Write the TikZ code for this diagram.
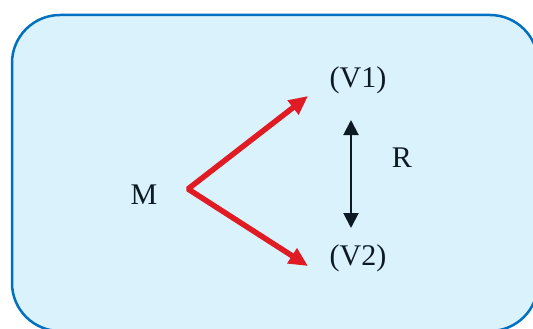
\documentclass[tikz,border=0pt]{standalone}
\usepackage{fontspec}
\setmainfont{Liberation Serif}
\usetikzlibrary{arrows.meta}
\definecolor{boxfill}{RGB}{218,242,252}
\definecolor{boxline}{RGB}{0,112,192}
\definecolor{redarrow}{RGB}{224,27,36}
\definecolor{darkink}{RGB}{12,26,36}
\tikzset{
  panel/.style={draw=boxline, fill=boxfill, line width=2.5pt, rounded corners=48pt},
  lbl/.style={text=darkink, font=\fontsize{30}{35}\selectfont, inner sep=0pt, anchor=base},
  redarr/.style={draw=redarrow, line width=5.5pt, line join=bevel,
     {Triangle[length=19pt,width=17pt]}-{Triangle[length=19pt,width=17pt]}},
  blkarr/.style={draw=darkink, line width=2pt,
     {Triangle[length=15pt,width=15pt]}-{Triangle[length=15pt,width=15pt]}}
}
\begin{document}
\begin{tikzpicture}[x=1pt,y=-1pt]
\useasboundingbox (0,0) rectangle (533,329);
\draw[panel] (12,15) rectangle (538,331);
\node[lbl] (M) at (144,204) {M};
\node[lbl] (V1) at (358,88) {(V1)};
\node[lbl] (V2) at (358,265) {(V2)};
\node[lbl] (R) at (402,167) {R};
\coordinate (vtx) at (188,189);
\coordinate (t1) at (308,96);
\coordinate (t2) at (308,266);
\coordinate (b1) at (351,120);
\coordinate (b2) at (351,228);
\draw[redarr] (t1) -- (vtx) -- (t2);
\draw[blkarr] (b1) -- (b2);
\end{tikzpicture}
\end{document}
